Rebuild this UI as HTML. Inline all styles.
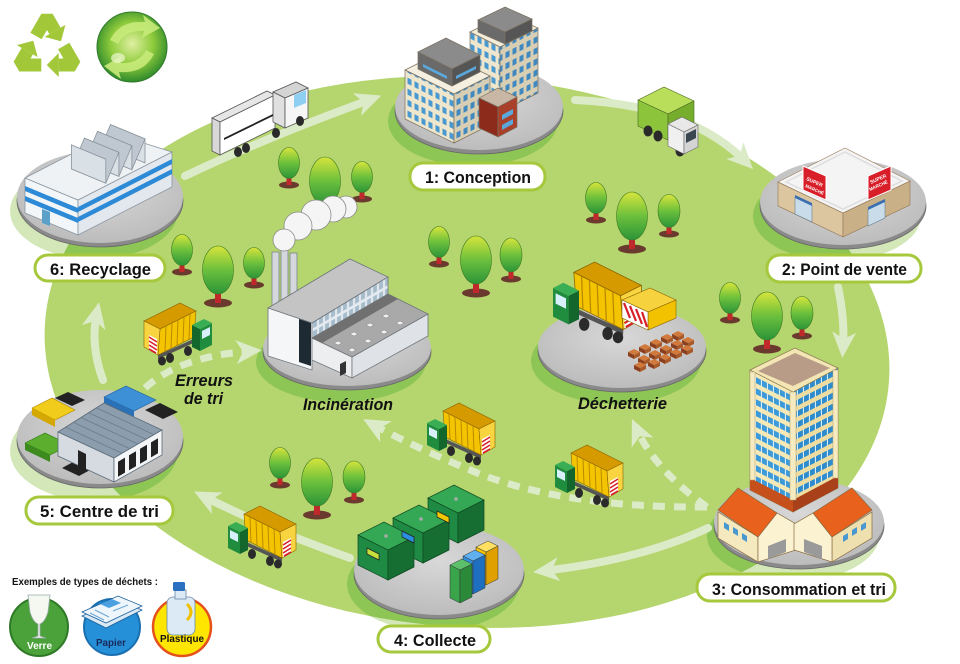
<!DOCTYPE html>
<html><head><meta charset="utf-8">
<style>
html,body{margin:0;padding:0;background:#fff;}
svg{display:block;}
.lb{font-family:"Liberation Sans",Arial,sans-serif;font-weight:bold;font-size:17px;fill:#111;}
.it{font-family:"Liberation Sans",Arial,sans-serif;font-weight:bold;font-style:italic;font-size:17px;fill:#111;}
.sm{font-family:"Liberation Sans",Arial,sans-serif;font-weight:bold;}
</style></head><body>
<svg width="960" height="664" viewBox="0 0 960 664" xmlns="http://www.w3.org/2000/svg">
<defs>
<linearGradient id="tg" x1="0" y1="0" x2="0" y2="1"><stop offset="0" stop-color="#d6e43c"/><stop offset=".5" stop-color="#6cc03c"/><stop offset="1" stop-color="#2b9438"/></linearGradient>
<radialGradient id="gl" cx=".5" cy=".45" r=".55"><stop offset="0" stop-color="#dff0a0"/><stop offset=".55" stop-color="#8fcb3c"/><stop offset="1" stop-color="#2f8a2c"/></radialGradient>
<radialGradient id="dg" cx=".5" cy=".4" r=".6"><stop offset="0" stop-color="#d8d8d8"/><stop offset="1" stop-color="#bcbcbc"/></radialGradient>
<marker id="ah" markerUnits="userSpaceOnUse" markerWidth="26" markerHeight="26" viewBox="0 0 26 26" refX="16" refY="13" orient="auto"><path d="M0,1 L26,13 L0,25 L7,13 z" fill="#dcebc7"/></marker>
<pattern id="wL" width="7" height="11" patternUnits="userSpaceOnUse" patternTransform="skewY(27)"><rect width="7" height="11" fill="#eee6cd"/><rect x="1.5" y="2" width="4" height="6" fill="#4a98d0"/></pattern>
<pattern id="wR" width="7" height="11" patternUnits="userSpaceOnUse" patternTransform="skewY(-27)"><rect width="7" height="11" fill="#d8ceb4"/><rect x="1.5" y="2" width="4" height="6" fill="#3f88c0"/></pattern>
<pattern id="tL" width="6" height="11" patternUnits="userSpaceOnUse" patternTransform="skewY(27)"><rect width="6" height="11" fill="#f6e9b6"/><rect y="3" width="6" height="6" fill="#3c9ad8"/><rect x="5" y="3" width="1" height="6" fill="#e8f4fa"/></pattern>
<pattern id="tR" width="6" height="11" patternUnits="userSpaceOnUse" patternTransform="skewY(-27)"><rect width="6" height="11" fill="#eedca0"/><rect y="3" width="6" height="6" fill="#2f8ccc"/><rect x="5" y="3" width="1" height="6" fill="#e8f4fa"/></pattern>
<pattern id="gw" width="6" height="10" patternUnits="userSpaceOnUse" patternTransform="skewY(-30)"><rect width="6" height="10" fill="#e4eaf0"/><rect x="1" y="2" width="4" height="7" fill="#a6bccb"/></pattern>
<clipPath id="ec"><ellipse cx="467" cy="352" rx="423" ry="275" transform="rotate(4 467 352)"/></clipPath>
<g id="dump">
 <polygon points="14,38 54,56 54,52 14,34" fill="#555"/>
 <ellipse cx="24" cy="48" rx="4" ry="5" fill="#2a2a2a"/>
 <ellipse cx="42" cy="55" rx="4" ry="5" fill="#2a2a2a"/>
 <ellipse cx="50" cy="58" rx="4" ry="4.5" fill="#2a2a2a"/>
 <polygon points="16,8 32,0 68,18 52,26" fill="#d49a00" stroke="#8a6400" stroke-width=".6"/>
 <polygon points="16,8 52,26 54,52 18,34" fill="#f5c400" stroke="#8a6400" stroke-width=".6"/>
 <g stroke="#b88a00" stroke-width="1"><line x1="22" y1="11" x2="23" y2="36.5"/><line x1="28" y1="14" x2="29" y2="39.5"/><line x1="34" y1="17" x2="35" y2="42.5"/><line x1="40" y1="20" x2="41" y2="45.5"/><line x1="46" y1="23" x2="47" y2="48.5"/></g>
 <polygon points="52,26 68,18 68,44 54,52" fill="#f8d440" stroke="#8a6400" stroke-width=".6"/>
 <polygon points="55,36 63,32 63,47 55,51" fill="#fff"/>
 <g stroke="#d8202a" stroke-width="1.6"><line x1="55" y1="39" x2="63" y2="34"/><line x1="55" y1="43" x2="63" y2="38"/><line x1="55" y1="47" x2="63" y2="42"/><line x1="56" y1="50" x2="63" y2="46"/></g>
 <polygon points="0,20 12,26 12,48 0,42" fill="#1f8c3e"/>
 <polygon points="12,26 20,22 20,44 12,48" fill="#13672c"/>
 <polygon points="0,20 8,16 20,22 12,26" fill="#3aae55"/>
 <polygon points="2,24 10,28 10,36 2,32" fill="#d8f0fa"/>
</g>
<g id="brick">
 <polygon points="0,0 6,-3 12,0 6,3" fill="#d27a3c"/>
 <polygon points="0,0 6,3 6,7 0,4" fill="#8a4020"/>
 <polygon points="6,3 12,0 12,4 6,7" fill="#a85a2a"/>
</g>
<g id="rarr">
 <polyline points="-11,-12.95 0,-32 8,-18.14" fill="none" stroke="#a2c83a" stroke-width="13" stroke-linejoin="bevel"/>
 <polygon points="18.4,-24.14 14,-7.75 -2.4,-12.14" fill="#a2c83a"/>
</g>
</defs>

<!-- pale shadows -->
<g fill="#d3e7b8">
<ellipse cx="94" cy="211" rx="84" ry="48"/>
<ellipse cx="473" cy="121" rx="85" ry="45"/>
<ellipse cx="837" cy="216" rx="84" ry="45"/>
<ellipse cx="793" cy="536" rx="86" ry="45"/>
<ellipse cx="433" cy="584" rx="86" ry="47"/>
<ellipse cx="94" cy="451" rx="84" ry="50"/>
</g>
<!-- big green ellipse -->
<ellipse cx="467" cy="352" rx="423" ry="275" fill="#b5d56e" transform="rotate(4 467 352)"/>
<g clip-path="url(#ec)" fill="#8dc655">
<ellipse cx="94" cy="211" rx="84" ry="48"/>
<ellipse cx="473" cy="121" rx="85" ry="45"/>
<ellipse cx="837" cy="216" rx="84" ry="45"/>
<ellipse cx="793" cy="536" rx="86" ry="45"/>
<ellipse cx="433" cy="584" rx="86" ry="47"/>
<ellipse cx="94" cy="451" rx="84" ry="50"/>
<ellipse cx="341" cy="362" rx="85" ry="40"/>
<ellipse cx="616" cy="361" rx="85" ry="43"/>
</g>

<!-- recycle symbol -->
<g transform="translate(47,49)">
 <use href="#rarr"/>
 <use href="#rarr" transform="rotate(120)"/>
 <use href="#rarr" transform="rotate(240)"/>
</g>
<!-- globe -->
<circle cx="132" cy="47" r="35" fill="url(#gl)" stroke="#2f7a2a" stroke-width="1"/>
<path d="M110,40 Q120,20 145,22 L143,15 L160,28 L142,38 L144,31 Q125,30 118,44 z" fill="#c8ea7a" opacity=".9"/>
<path d="M154,54 Q144,74 119,72 L121,79 L104,66 L122,56 L120,63 Q139,64 146,50 z" fill="#c8ea7a" opacity=".9"/>
<ellipse cx="118" cy="58" rx="7" ry="5" fill="#eef8d0" opacity=".7"/>

<!-- arrows -->
<g fill="none" stroke="#dcebc7" stroke-width="8" stroke-linecap="round" marker-end="url(#ah)">
<path d="M185,176 Q260,140 372,99"/>
<path d="M575,100 Q690,105 746,162"/>
<path d="M838,287 Q845,320 843,348"/>
<path d="M708,528 Q640,560 543,571"/>
<path d="M350,558 Q270,530 203,496"/>
<path d="M103,380 Q90,345 97,312"/>
</g>
<g fill="none" stroke="#dcebc7" stroke-width="7" stroke-dasharray="12 9" marker-end="url(#ah)">
<path d="M145,388 Q180,356 252,351"/>
<path d="M707,507 Q560,508 470,470 Q410,445 372,424"/>
<path d="M707,507 Q655,470 636,428"/>
</g>

<!-- trees -->
<g>
<ellipse cx="289" cy="185" rx="10" ry="3.5" fill="#6b3a2e"/><rect x="286.5" y="172" width="5" height="13" fill="#c0282c"/><ellipse cx="289" cy="163" rx="10.5" ry="15.5" fill="url(#tg)" stroke="#3d7a22" stroke-width=".6"/>
<ellipse cx="325" cy="214" rx="14" ry="4.5" fill="#6b3a2e"/><rect x="322" y="198" width="6" height="16" fill="#c0282c"/><ellipse cx="325" cy="181" rx="15.5" ry="24" fill="url(#tg)" stroke="#3d7a22" stroke-width=".6"/>
<ellipse cx="362" cy="199" rx="10" ry="3.5" fill="#6b3a2e"/><rect x="359.5" y="186" width="5" height="13" fill="#c0282c"/><ellipse cx="362" cy="177" rx="10.5" ry="15.5" fill="url(#tg)" stroke="#3d7a22" stroke-width=".6"/>
<ellipse cx="182" cy="272" rx="10" ry="3.5" fill="#6b3a2e"/><rect x="179.5" y="259" width="5" height="13" fill="#c0282c"/><ellipse cx="182" cy="250" rx="10.5" ry="15.5" fill="url(#tg)" stroke="#3d7a22" stroke-width=".6"/>
<ellipse cx="218" cy="303" rx="14" ry="4.5" fill="#6b3a2e"/><rect x="215" y="287" width="6" height="16" fill="#c0282c"/><ellipse cx="218" cy="270" rx="15.5" ry="24" fill="url(#tg)" stroke="#3d7a22" stroke-width=".6"/>
<ellipse cx="254" cy="285" rx="10" ry="3.5" fill="#6b3a2e"/><rect x="251.5" y="272" width="5" height="13" fill="#c0282c"/><ellipse cx="254" cy="263" rx="10.5" ry="15.5" fill="url(#tg)" stroke="#3d7a22" stroke-width=".6"/>
<ellipse cx="439" cy="264" rx="10" ry="3.5" fill="#6b3a2e"/><rect x="436.5" y="251" width="5" height="13" fill="#c0282c"/><ellipse cx="439" cy="242" rx="10.5" ry="15.5" fill="url(#tg)" stroke="#3d7a22" stroke-width=".6"/>
<ellipse cx="476" cy="293" rx="14" ry="4.5" fill="#6b3a2e"/><rect x="473" y="277" width="6" height="16" fill="#c0282c"/><ellipse cx="476" cy="260" rx="15.5" ry="24" fill="url(#tg)" stroke="#3d7a22" stroke-width=".6"/>
<ellipse cx="511" cy="279" rx="10" ry="3.5" fill="#6b3a2e"/><rect x="508.5" y="264" width="5" height="15" fill="#c0282c"/><ellipse cx="511" cy="255" rx="11" ry="17" fill="url(#tg)" stroke="#3d7a22" stroke-width=".6"/>
<ellipse cx="596" cy="220" rx="10" ry="3.5" fill="#6b3a2e"/><rect x="593.5" y="207" width="5" height="13" fill="#c0282c"/><ellipse cx="596" cy="198" rx="10.5" ry="15.5" fill="url(#tg)" stroke="#3d7a22" stroke-width=".6"/>
<ellipse cx="632" cy="249" rx="14" ry="4.5" fill="#6b3a2e"/><rect x="629" y="233" width="6" height="16" fill="#c0282c"/><ellipse cx="632" cy="216" rx="15.5" ry="24" fill="url(#tg)" stroke="#3d7a22" stroke-width=".6"/>
<ellipse cx="669" cy="234" rx="10" ry="3.5" fill="#6b3a2e"/><rect x="666.5" y="220" width="5" height="14" fill="#c0282c"/><ellipse cx="669" cy="211" rx="11" ry="16.5" fill="url(#tg)" stroke="#3d7a22" stroke-width=".6"/>
<ellipse cx="730" cy="320" rx="10" ry="3.5" fill="#6b3a2e"/><rect x="727.5" y="307" width="5" height="13" fill="#c0282c"/><ellipse cx="730" cy="298" rx="10.5" ry="15.5" fill="url(#tg)" stroke="#3d7a22" stroke-width=".6"/>
<ellipse cx="767" cy="349" rx="14" ry="4.5" fill="#6b3a2e"/><rect x="764" y="333" width="6" height="16" fill="#c0282c"/><ellipse cx="767" cy="316" rx="15.5" ry="24" fill="url(#tg)" stroke="#3d7a22" stroke-width=".6"/>
<ellipse cx="802" cy="336" rx="10" ry="3.5" fill="#6b3a2e"/><rect x="799.5" y="322" width="5" height="14" fill="#c0282c"/><ellipse cx="802" cy="313" rx="11" ry="16.5" fill="url(#tg)" stroke="#3d7a22" stroke-width=".6"/>
<ellipse cx="280" cy="485" rx="10" ry="3.5" fill="#6b3a2e"/><rect x="277.5" y="472" width="5" height="13" fill="#c0282c"/><ellipse cx="280" cy="463" rx="10.5" ry="15.5" fill="url(#tg)" stroke="#3d7a22" stroke-width=".6"/>
<ellipse cx="317" cy="515" rx="14" ry="4.5" fill="#6b3a2e"/><rect x="314" y="499" width="6" height="16" fill="#c0282c"/><ellipse cx="317" cy="482" rx="15.5" ry="24" fill="url(#tg)" stroke="#3d7a22" stroke-width=".6"/>
<ellipse cx="354" cy="500" rx="10" ry="3.5" fill="#6b3a2e"/><rect x="351.5" y="486" width="5" height="14" fill="#c0282c"/><ellipse cx="354" cy="477" rx="11" ry="16" fill="url(#tg)" stroke="#3d7a22" stroke-width=".6"/>
</g>

<!-- ===== 6 Recycling factory ===== -->
<ellipse cx="100" cy="201" rx="83" ry="46" fill="#8a8a8a" stroke="#666" stroke-width=".8"/>
<ellipse cx="100" cy="197" rx="83" ry="46" fill="url(#dg)"/>
<g stroke="#8a96a0" stroke-width=".8">
<polygon points="25,178 78,200 78,235 25,213" fill="#f3f6f9"/>
<polygon points="78,200 172,152 172,187 78,235" fill="#e2e8ee"/>
<polygon points="25,178 112,133 172,152 78,200" fill="#eef2f5"/>
</g>
<g fill="#2d8ad6">
<polygon points="78,207 172,159 172,164 78,212"/>
<polygon points="78,217 172,169 172,174 78,222"/>
<polygon points="25,186 78,208 78,213 25,191"/>
<polygon points="25,196 78,218 78,223 25,201"/>
</g>
<polygon points="42,209 50,212 50,226 42,223" fill="#5aa0c8"/>
<g stroke="#8a949c" stroke-width=".8">
<polygon points="110.5,148.6 145,162.9 145,138.9 110.5,124.6" fill="#d9e0e6"/>
<polygon points="110.5,124.6 145,138.9 131.9,169.7 97.5,155.4" fill="#bfc8d0"/>
<polygon points="97.5,155.4 131.9,169.7 131.9,145.7 97.5,131.4" fill="#d9e0e6"/>
<polygon points="97.5,131.4 131.9,145.7 118.9,176.4 84.4,162.1" fill="#bfc8d0"/>
<polygon points="84.4,162.1 118.9,176.4 118.9,152.4 84.4,138.1" fill="#d9e0e6"/>
<polygon points="84.4,138.1 118.9,152.4 105.8,183.2 71.4,168.9" fill="#bfc8d0"/>
<polygon points="71.4,168.9 105.8,183.2 105.8,159.2 71.4,144.9" fill="#d9e0e6"/>
</g>

<!-- white truck -->
<g stroke="#555" stroke-width=".8">
<polygon points="212,118 267,91 275,95 220,122" fill="#e6e6e6"/>
<polygon points="212,118 220,122 220,155 212,151" fill="#d8d8d8"/>
<polygon points="220,122 275,95 275,128 220,155" fill="#fff"/>
<polygon points="273,92 296,82 308,88 285,98" fill="#d4d4d4"/>
<polygon points="273,92 285,98 285,128 273,122" fill="#e0e0e0"/>
<polygon points="285,98 308,88 308,118 285,128" fill="#f6f6f6"/>
</g>
<polygon points="224,138 273,114 273,116 224,140" fill="#222"/>
<polygon points="294,95 306,90 306,103 294,108" fill="#8fd0f2"/>
<g fill="#2a2a2a"><ellipse cx="238" cy="152" rx="4" ry="5"/><ellipse cx="246" cy="148" rx="4" ry="5"/><ellipse cx="276" cy="133" rx="4" ry="5"/><ellipse cx="300" cy="121" rx="4" ry="5"/></g>

<!-- ===== 1 Conception ===== -->
<ellipse cx="479" cy="111" rx="84" ry="43" fill="#8a8a8a" stroke="#666" stroke-width=".8"/>
<ellipse cx="479" cy="107" rx="84" ry="43" fill="url(#dg)"/>
<g stroke="#7a7060" stroke-width=".7">
<polygon points="470,32 500,47 500,112 470,97" fill="url(#wL)"/>
<polygon points="500,47 538,28 538,93 500,112" fill="url(#wR)"/>
<polygon points="470,32 506,14 538,28 500,47" fill="#f2ecd8"/>
<polygon points="478,20 505,7 532,19 505,32" fill="#8b8b8b"/>
<polygon points="478,20 505,32 505,44 478,32" fill="#6a6a6a"/>
<polygon points="505,32 532,19 532,31 505,44" fill="#555"/>
<polygon points="405,70 441,52 490,76 454,94" fill="#f4efe0"/>
<polygon points="405,70 454,94 454,143 405,119" fill="url(#wL)"/>
<polygon points="454,94 490,76 490,125 454,143" fill="url(#wR)"/>
<polygon points="418,52 446,38 480,55 452,69" fill="#8b8b8b"/>
<polygon points="418,52 452,69 452,86 418,69" fill="#6a6a6a"/>
<polygon points="452,69 480,55 480,72 452,86" fill="#555"/>
<polygon points="479,98 498,88 517,97 498,107" fill="#c9b7a6"/>
<polygon points="479,98 498,107 498,137 479,128" fill="#8c2a1c"/>
<polygon points="498,107 517,97 517,127 498,137" fill="#a8402a"/>
</g>
<g fill="#5aa8dc"><polygon points="423,64 447,76 447,79 423,67"/><polygon points="456,76 476,66 476,69 456,79"/><polygon points="502,115 513,109 513,114 502,120"/><polygon points="502,125 513,119 513,124 502,130"/></g>

<!-- green truck -->
<g stroke="#4a6a20" stroke-width=".6">
<polygon points="638,100 664,87 694,101 668,114" fill="#b9de5a"/>
<polygon points="638,100 668,114 668,140 638,126" fill="#8cc43c"/>
<polygon points="668,114 694,101 694,127 668,140" fill="#76ad2c"/>
</g>
<g fill="#2a2a2a"><ellipse cx="648" cy="131" rx="4.5" ry="5.5"/><ellipse cx="658" cy="136" rx="4.5" ry="5.5"/><ellipse cx="680" cy="151" rx="4.5" ry="5.5"/></g>
<g stroke="#666" stroke-width=".6">
<polygon points="668,124 682,117 698,125 684,132" fill="#e8e8e8"/>
<polygon points="668,124 684,132 684,154 668,146" fill="#f0f0f0"/>
<polygon points="684,132 698,125 698,147 684,154" fill="#d4d4d4"/>
</g>
<polygon points="686,134 696,129 696,138 686,143" fill="#3a4650"/>

<!-- ===== 2 Supermarket ===== -->
<ellipse cx="843" cy="206" rx="83" ry="43" fill="#8a8a8a" stroke="#666" stroke-width=".8"/>
<ellipse cx="843" cy="202" rx="83" ry="43" fill="url(#dg)"/>
<g stroke="#9a8060" stroke-width=".7">
<polygon points="778,182 843,213 843,237 778,206" fill="#dcc6a0"/>
<polygon points="843,213 910,181 910,205 843,237" fill="#c9b087"/>
<polygon points="778,182 845,148 910,181 843,213" fill="#f4f4f4"/>
</g>
<polygon points="786,182 845,152 902,181 843,209" fill="none" stroke="#ddd" stroke-width="1.5"/>
<polygon points="795,197 812,205 812,222 795,214" fill="#c8dcea" stroke="#6a7f90" stroke-width=".6"/>
<polygon points="868,209 885,201 885,218 868,226" fill="#c8dcea" stroke="#6a7f90" stroke-width=".6"/>
<polygon points="795,195 812,203 812,206 795,198" fill="#3a6fb0"/>
<polygon points="868,207 885,199 885,202 868,210" fill="#3a6fb0"/>
<polygon points="803,166 826,176 826,200 803,190" fill="#d81e28" stroke="#fff" stroke-width="1"/>
<polygon points="868,176 891,166 891,190 868,200" fill="#d81e28" stroke="#fff" stroke-width="1"/>
<text class="sm" font-size="5" fill="#fff" transform="translate(806,180) rotate(24)">SUPER</text>
<text class="sm" font-size="4.5" fill="#fff" transform="translate(805,187) rotate(24)">MARCHÉ</text>
<text class="sm" font-size="5" fill="#fff" transform="translate(871,184) rotate(-24)">SUPER</text>
<text class="sm" font-size="4.5" fill="#fff" transform="translate(870,191) rotate(-24)">MARCHÉ</text>

<!-- ===== Incinération ===== -->
<ellipse cx="347" cy="352" rx="84" ry="38" fill="#8a8a8a" stroke="#666" stroke-width=".8"/>
<ellipse cx="347" cy="348" rx="84" ry="38" fill="url(#dg)"/>
<g fill="#d4d8dc" stroke="#7d858c" stroke-width=".8">
<rect x="272" y="252" width="7" height="56"/>
<rect x="281" y="247" width="7" height="60"/>
<rect x="290" y="253" width="7" height="55"/>
</g>
<g fill="#f5f5f5" stroke="#8a8a8a" stroke-width=".8">
<circle cx="346" cy="207" r="11"/>
<circle cx="333" cy="209" r="13"/>
<circle cx="316" cy="215" r="15"/>
<circle cx="298" cy="226" r="14"/>
<circle cx="284" cy="240" r="11"/>
</g>
<g stroke="#6f767c" stroke-width=".8">
<polygon points="268,308 350,259 388,277 312,323" fill="#c4c4c4"/>
<polygon points="268,308 312,323 312,370 268,356" fill="#f4f6f8"/>
<polygon points="312,323 388,277 388,300 312,346" fill="url(#gw)"/>
</g>
<polygon points="299,319 311,323 311,366 299,362" fill="#1d2a33"/>
<g stroke="#6f767c" stroke-width=".8">
<polygon points="312,338 352,357 352,378 312,360" fill="#eceef0"/>
<polygon points="352,357 428,314 428,336 352,378" fill="#dfe3e7"/>
<polygon points="312,338 388,294 428,314 352,357" fill="#a9a9a9"/>
</g>
<polygon points="312,338 388,294 398,299 322,343" fill="#707070"/>
<g fill="#f0f0f0" stroke="#777" stroke-width=".4">
<polygon points="334,343 338,341 342,343 338,345"/><polygon points="350,334 354,332 358,334 354,336"/><polygon points="366,325 370,323 374,325 370,327"/><polygon points="382,316 386,314 390,316 386,318"/>
<polygon points="348,350 352,348 356,350 352,352"/><polygon points="364,341 368,339 372,341 368,343"/><polygon points="380,332 384,330 388,332 384,334"/><polygon points="396,323 400,321 404,323 400,325"/>
</g>
<polygon points="340,364 346,361 346,373 340,376" fill="#333"/>

<!-- ===== Déchetterie ===== -->
<ellipse cx="622" cy="351" rx="84" ry="41" fill="#8a8a8a" stroke="#666" stroke-width=".8"/>
<ellipse cx="622" cy="347" rx="84" ry="41" fill="url(#dg)"/>
<use href="#dump" transform="translate(553,262) scale(1.3)"/>
<g stroke="#8a6400" stroke-width=".6">
<polygon points="622,300 650,288 676,300 648,312" fill="#f6d23e"/>
<polygon points="648,312 676,300 676,318 648,330" fill="#f2c200"/>
<polygon points="622,300 648,312 648,330 622,318" fill="#fff"/>
</g>
<g stroke="#d8202a" stroke-width="2.2"><line x1="624" y1="303" x2="630" y2="318"/><line x1="630" y1="306" x2="636" y2="321"/><line x1="636" y1="309" x2="642" y2="324"/><line x1="642" y1="312" x2="647" y2="327"/></g>
<use href="#brick" x="672" y="334"/><use href="#brick" x="661" y="337"/><use href="#brick" x="682" y="340"/><use href="#brick" x="650" y="342"/><use href="#brick" x="671" y="343"/><use href="#brick" x="639" y="347"/><use href="#brick" x="660" y="348"/><use href="#brick" x="681" y="348"/><use href="#brick" x="628" y="352"/><use href="#brick" x="649" y="353"/><use href="#brick" x="670" y="352"/><use href="#brick" x="638" y="358"/><use href="#brick" x="659" y="357"/><use href="#brick" x="648" y="362"/><use href="#brick" x="634" y="365"/>

<!-- ===== 5 Centre de tri ===== -->
<ellipse cx="100" cy="441" rx="83" ry="47" fill="#8a8a8a" stroke="#666" stroke-width=".8"/>
<ellipse cx="100" cy="437" rx="83" ry="47" fill="url(#dg)"/>
<polygon points="55,398 68,392 85,400 72,406" fill="#222"/>
<polygon points="145,410 160,403 178,412 163,419" fill="#222"/>
<polygon points="62,468 75,461 92,469 79,476" fill="#222"/>
<polygon points="32,408 52,398 75,410 55,420" fill="#f2cc1a" stroke="#b08a00" stroke-width=".6"/>
<polygon points="32,408 55,420 55,427 32,415" fill="#d4a800"/>
<polygon points="104,397 126,386 156,400 134,411" fill="#3d8fd6" stroke="#1c5f9a" stroke-width=".6"/>
<polygon points="104,397 134,411 134,417 104,403" fill="#2a72b8"/>
<polygon points="25,443 45,433 70,445 50,455" fill="#5cae2e" stroke="#2e7a18" stroke-width=".6"/>
<polygon points="25,443 50,455 50,462 25,450" fill="#3d8a1e"/>
<g stroke="#5a6a78" stroke-width=".8">
<polygon points="58,432 104,403 162,430 114,458" fill="#8c9eae"/>
<polygon points="58,432 114,458 114,482 58,456" fill="#d5dbe1"/>
<polygon points="114,458 162,430 162,455 114,482" fill="#f3f5f7"/>
</g>
<g stroke="#6a7c8c" stroke-width=".8">
<line x1="65.7" y1="427.2" x2="122" y2="453.3"/><line x1="73.3" y1="422.3" x2="130" y2="448.7"/><line x1="81" y1="417.5" x2="138" y2="444"/><line x1="88.7" y1="412.7" x2="146" y2="439.3"/><line x1="96.3" y1="407.8" x2="154" y2="434.7"/>
</g>
<g fill="#222">
<polygon points="118,461.7 125,457.6 125,472.6 118,476.7"/><polygon points="129,455.3 136,451.2 136,466.2 129,470.3"/><polygon points="140,448.8 147,444.8 147,459.8 140,463.8"/><polygon points="151,442.4 158,438.3 158,453.3 151,457.4"/>
<polygon points="78,450 86,454 86,470 78,466"/>
</g>

<!-- trucks -->
<use href="#dump" transform="translate(212,303) scale(-1,1)"/>
<use href="#dump" transform="translate(427,403)"/>
<use href="#dump" transform="translate(555,445)"/>
<use href="#dump" transform="translate(228,506)"/>

<!-- ===== 3 Tower ===== -->
<ellipse cx="799" cy="526" rx="85" ry="43" fill="#8a8a8a" stroke="#666" stroke-width=".8"/>
<ellipse cx="799" cy="522" rx="85" ry="43" fill="url(#dg)"/>
<g stroke="#8a7a50" stroke-width=".7">
<polygon points="750,370 793,392 793,512 750,490" fill="url(#tL)"/>
<polygon points="793,392 838,368 838,488 793,512" fill="url(#tR)"/>
<polygon points="750,370 795,348 838,368 793,392" fill="#f3e6b4"/>
</g>
<polygon points="758,371 795,353 830,368 793,386" fill="#b89c88"/>
<polygon points="750,478 793,500 793,512 750,490" fill="#c5501c"/>
<polygon points="793,500 838,476 838,488 793,512" fill="#a8401a"/>
<g fill="#f6ebc0" stroke="#b0a070" stroke-width=".5">
<rect x="790" y="392" width="6" height="108"/><rect x="750" y="372" width="5" height="108"/><rect x="833" y="370" width="5" height="108"/>
</g>
<!-- houses -->
<g stroke="#8a6a40" stroke-width=".7">
<polygon points="718,512 758,537 758,562 718,538" fill="#f5e9bf"/>
<polygon points="758,537 777,513 796,524 796,550 758,562" fill="#fbf2d2"/>
<polygon points="718,510 738,488 777,513 758,537" fill="#e8621e"/>
<polygon points="872,512 832,537 832,562 872,538" fill="#efe0b0"/>
<polygon points="832,537 813,513 794,524 794,550 832,562" fill="#fbf2d2"/>
<polygon points="872,510 852,488 813,513 832,537" fill="#e8621e"/>
</g>
<g fill="#4a98d0">
<polygon points="724,522 729,525 729,531 724,528"/><polygon points="733,527 738,530 738,536 733,533"/><polygon points="742,533 747,536 747,542 742,539"/>
<polygon points="866,522 861,525 861,531 866,528"/><polygon points="857,527 852,530 852,536 857,533"/><polygon points="848,533 843,536 843,542 848,539"/>
</g>
<polygon points="768,546 786,539 786,552 768,559" fill="#9a9a9a"/>
<polygon points="804,539 822,546 822,559 804,552" fill="#9a9a9a"/>

<!-- ===== 4 Collecte ===== -->
<ellipse cx="439" cy="574" rx="85" ry="45" fill="#8a8a8a" stroke="#666" stroke-width=".8"/>
<ellipse cx="439" cy="570" rx="85" ry="45" fill="url(#dg)"/>
<g stroke="#0e4a20" stroke-width=".7">
<polygon points="428,528 458,543 458,513 428,498" fill="#1f8a43"/>
<polygon points="458,543 484,530 484,500 458,513" fill="#166e33"/>
<polygon points="428,498 458,513 484,500 454,485" fill="#35a856"/>
<polygon points="393,548 423,563 423,533 393,518" fill="#1f8a43"/>
<polygon points="423,563 449,550 449,520 423,533" fill="#166e33"/>
<polygon points="393,518 423,533 449,520 419,505" fill="#35a856"/>
<polygon points="358,565 388,580 388,550 358,535" fill="#1f8a43"/>
<polygon points="388,580 414,567 414,537 388,550" fill="#166e33"/>
<polygon points="358,535 388,550 414,537 384,522" fill="#35a856"/>
</g>
<g stroke="#222" stroke-width=".7">
<polygon points="437,511 449,517 449,523 437,517" fill="#f2c800"/>
<polygon points="402,531 414,537 414,543 402,537" fill="#2a8fe0"/>
<polygon points="367,548 379,554 379,560 367,554" fill="#c8e03c"/>
</g>
<g fill="#aaa"><circle cx="456" cy="499" r="1.8"/><circle cx="421" cy="519" r="1.8"/><circle cx="386" cy="536" r="1.8"/></g>
<g stroke="#333" stroke-width=".5">
<polygon points="476,547 486,552 486,585 476,580" fill="#f6c400"/><polygon points="486,552 498,546 498,579 486,585" fill="#e0a000"/><polygon points="476,547 488,541 498,546 486,552" fill="#ffe060"/>
<polygon points="463,556 473,561 473,594 463,589" fill="#2f8fe0"/><polygon points="473,561 485,555 485,588 473,594" fill="#1f6fc0"/><polygon points="463,556 475,550 485,555 473,561" fill="#60b0f0"/>
<polygon points="450,565 460,570 460,603 450,598" fill="#3aa44a"/><polygon points="460,570 472,564 472,597 460,603" fill="#2a8a3a"/><polygon points="450,565 462,559 472,564 460,570" fill="#5cc06a"/>
</g>

<!-- italic labels -->
<text class="it" x="303" y="410" textLength="90" lengthAdjust="spacingAndGlyphs">Incinération</text>
<text class="it" x="578" y="409" textLength="89" lengthAdjust="spacingAndGlyphs">Déchetterie</text>
<text class="it" x="175" y="386" textLength="58" lengthAdjust="spacingAndGlyphs">Erreurs</text>
<text class="it" x="184" y="404" textLength="39" lengthAdjust="spacingAndGlyphs">de tri</text>

<!-- step labels -->
<g fill="#fff" stroke="#a6c83c" stroke-width="3">
<rect x="410" y="163" width="135" height="27" rx="13"/>
<rect x="767" y="255" width="154" height="27" rx="13"/>
<rect x="697" y="574" width="198" height="27" rx="13"/>
<rect x="378" y="626" width="112" height="26" rx="13"/>
<rect x="26" y="497" width="147" height="27" rx="13"/>
<rect x="35" y="255" width="130" height="26" rx="13"/>
</g>
<text class="lb" x="425" y="183" textLength="106" lengthAdjust="spacingAndGlyphs">1: Conception</text>
<text class="lb" x="782" y="275" textLength="125" lengthAdjust="spacingAndGlyphs">2: Point de vente</text>
<text class="lb" x="712" y="595" textLength="174" lengthAdjust="spacingAndGlyphs">3: Consommation et tri</text>
<text class="lb" x="394" y="646" textLength="82" lengthAdjust="spacingAndGlyphs">4: Collecte</text>
<text class="lb" x="40" y="517" textLength="119" lengthAdjust="spacingAndGlyphs">5: Centre de tri</text>
<text class="lb" x="50" y="275" textLength="101" lengthAdjust="spacingAndGlyphs">6: Recyclage</text>

<!-- legend -->
<text class="sm" x="12" y="585" font-size="10.5" fill="#111" textLength="146" lengthAdjust="spacingAndGlyphs">Exemples de types de déchets :</text>
<circle cx="39" cy="627" r="29" fill="#4ca23a" stroke="#2e7a26" stroke-width="2"/>
<path d="M28,595 L50,595 L48,612 Q45,622 40,624 L40,636 L46,638 L32,638 L38,636 L38,624 Q33,622 30,612 z" fill="#f4f8f0" stroke="#9aa" stroke-width=".8"/>
<text class="sm" x="27" y="649" font-size="10" fill="#fff" textLength="25" lengthAdjust="spacingAndGlyphs">Verre</text>
<circle cx="112" cy="627" r="28" fill="#2590d8" stroke="#1a6fb0" stroke-width="2"/>
<polygon points="82,616 106,628 142,610 118,600" fill="#d8e8f4" stroke="#1a5f9a" stroke-width=".8"/>
<polygon points="82,612 118,596 142,606 106,623" fill="#eef5fb" stroke="#1a5f9a" stroke-width=".8"/>
<polygon points="100,604 112,599 121,603 109,608" fill="#4aa0e0"/>
<g stroke="#6aa6d6" stroke-width="1"><line x1="90" y1="613" x2="104" y2="620"/><line x1="95" y1="610" x2="109" y2="617"/><line x1="113" y1="611" x2="128" y2="605"/></g>
<text class="sm" x="96" y="646" font-size="10" fill="#1a2a5a" textLength="30" lengthAdjust="spacingAndGlyphs">Papier</text>
<circle cx="182" cy="627" r="29" fill="#ffe600" stroke="#e5511c" stroke-width="2.5"/>
<rect x="167" y="597" width="28" height="38" rx="6" fill="#dceaf6" stroke="#6a8aa8" stroke-width=".8"/>
<rect x="175" y="590" width="11" height="9" fill="#dceaf6" stroke="#6a8aa8" stroke-width=".8"/>
<rect x="173" y="582" width="12" height="9" rx="1.5" fill="#2a6fc0"/>
<path d="M187,604 Q195,612 187,620" fill="none" stroke="#f0c000" stroke-width="3"/>
<text class="sm" x="160" y="642" font-size="10" fill="#111" textLength="44" lengthAdjust="spacingAndGlyphs">Plastique</text>
</svg>
</body></html>
